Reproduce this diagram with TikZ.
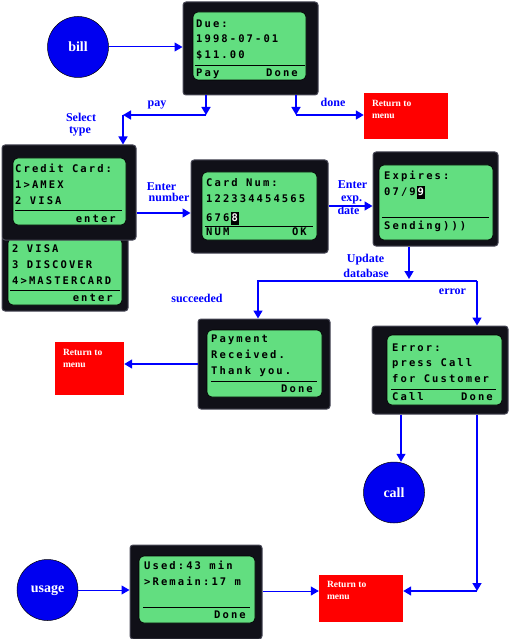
\documentclass[tikz,border=0pt]{standalone}
\usepackage{fontspec}
\setmainfont{Liberation Serif}
\newfontfamily\lcdfont[LetterSpace=20]{DejaVu Sans Mono}
\usetikzlibrary{arrows.meta}

\definecolor{linkblue}{RGB}{0,0,255}
\definecolor{circblue}{RGB}{0,0,240}
\definecolor{lcdgreen}{RGB}{98,222,128}
\definecolor{framebk}{RGB}{16,16,24}
\definecolor{framegray}{RGB}{72,72,86}

\tikzset{
  phone/.style={draw=framegray, fill=framebk, line width=1pt, rounded corners=3pt, inner sep=0pt},
  screen/.style={draw=black, fill=lcdgreen, line width=0.6pt, rounded corners=5pt, inner sep=0pt},
  lcd/.style={font=\lcdfont\bfseries\fontsize{10.5}{12}\selectfont, inner sep=0pt, anchor=base west},
  lcdr/.style={lcd, anchor=base east},
  cursor/.style={lcd, fill=black, text=white, text height=9.5pt, text depth=3.5pt, inner xsep=0.5pt},
  sep/.style={draw=black, line width=0.9pt},
  state/.style={circle, fill=circblue, draw=black, line width=0.5pt, minimum size=61pt, inner sep=0pt,
    text=white, font=\bfseries\fontsize{14}{14}\selectfont},
  menubox/.style={fill=red, inner sep=0pt},
  menutext/.style={text=white, font=\bfseries\fontsize{9.5}{12}\selectfont, inner sep=0pt, anchor=north west, align=left},
  lbl/.style={text=linkblue, font=\bfseries\fontsize{12}{12}\selectfont, inner sep=0pt, anchor=base},
  conn/.style={->, draw=linkblue, line width=1.6pt},
  thinconn/.style={conn, line width=1pt},
}

\begin{document}
\begin{tikzpicture}[x=1pt, y=-1pt, >={Triangle[length=8pt,width=9pt]}]
  \useasboundingbox (0,0) rectangle (513,639);

  % start points
  \node[state] (bill) at (78,47) {bill};
  \node[state] (call) at (394,492.5) {call};
  \node[state] (usage) at (47.5,590) {usage};

  % bill screen
  \node[phone, minimum width=135, minimum height=93] (due) at (250.5,48.5) {};
  \node[screen, minimum width=113, minimum height=68] (dues) at (249.5,46) {};
  \foreach \t [count=\i] in {Due:, 1998-07-01, \$11.00}
    \node[lcd] (due-\i) at (196,{12+15.5*\i}) {\t};
  \draw[sep] (195,65) -- (305,65);
  \node[lcd] (due-pay) at (196,77) {Pay};
  \node[lcdr] (due-done) at (298,77) {Done};

  % card type, second page first
  \node[phone, minimum width=126, minimum height=75] (card2) at (65,273.5) {};
  \node[screen, minimum width=114, minimum height=67] (card2s) at (65,271.5) {};
  \foreach \t [count=\i] in {2 VISA, 3 DISCOVER, 4>MASTERCARD}
    \node[lcd] (card2-\i) at (12,{236.5+16*\i}) {\t};
  \draw[sep] (10,290) -- (120,290);
  \node[lcdr] (card2-enter) at (113,301.5) {enter};

  \node[phone, minimum width=134, minimum height=95] (card) at (69,192.5) {};
  \node[screen, minimum width=113, minimum height=67] (cards) at (69.5,191.5) {};
  \foreach \t [count=\i] in {Credit Card:, 1>AMEX, 2 VISA}
    \node[lcd] (card-\i) at (15,{156+16*\i}) {\t};
  \draw[sep] (15,210) -- (122,210);
  \node[lcdr] (card-enter) at (116,222.5) {enter};

  % card number
  \node[phone, minimum width=137, minimum height=93] (num) at (259.5,206.5) {};
  \node[screen, minimum width=115, minimum height=68] (nums) at (259.5,206) {};
  \node[lcd] (num-1) at (206,186.5) {Card Num:};
  \node[lcd] (num-2) at (206,202.5) {122334454565};
  \node[lcd] (num-3) at (206,221.5) {676};
  \node[cursor] (num-cur) at (231,221.5) {8};
  \draw[sep] (205,226) -- (313,226);
  \node[lcd] (num-num) at (206,235.5) {NUM};
  \node[lcdr] (num-ok) at (307,235.5) {OK};

  % expiry date
  \node[phone, minimum width=125, minimum height=94] (exp) at (435.5,199) {};
  \node[screen, minimum width=114, minimum height=75] (exps) at (436,202.5) {};
  \node[lcd] (exp-1) at (384,179.5) {Expires:};
  \node[lcd] (exp-2) at (384,195.5) {07/9};
  \node[cursor] (exp-cur) at (417,195.5) {9};
  \draw[sep] (382,217) -- (489,217);
  \node[lcd] (exp-send) at (384,229.5) {Sending)))};

  % payment received
  \node[phone, minimum width=132, minimum height=90] (pay) at (264,364) {};
  \node[screen, minimum width=115, minimum height=67] (pays) at (264.5,363.5) {};
  \foreach \t [count=\i] in {Payment, Received., Thank you.}
    \node[lcd] (pay-\i) at (211,{326.5+16*\i}) {\t};
  \draw[sep] (211,381) -- (317,381);
  \node[lcdr] (pay-done) at (313,392.5) {Done};

  % error
  \node[phone, minimum width=136, minimum height=88] (err) at (440,370) {};
  \node[screen, minimum width=115, minimum height=70] (errs) at (444.5,370) {};
  \foreach \t [count=\i] in {Error:, press Call, for Customer}
    \node[lcd] (err-\i) at (392,{335.5+15.5*\i}) {\t};
  \draw[sep] (391,389) -- (496,389);
  \node[lcd] (err-call) at (392,400.5) {Call};
  \node[lcdr] (err-done) at (493,400.5) {Done};

  % usage
  \node[phone, minimum width=132, minimum height=94] (use) at (196,592) {};
  \node[screen, minimum width=116, minimum height=67] (uses) at (197,589.5) {};
  \node[lcd] (use-1) at (144,569.5) {Used:43 min};
  \node[lcd] (use-2) at (144,585.5) {>Remain:17 m};
  \draw[sep] (143,607) -- (250,607);
  \node[lcdr] (use-done) at (246,618.5) {Done};

  % return to menu
  \node[menubox, minimum width=84, minimum height=46] (red1) at (406,116) {};
  \node[menutext] (red1t) at ([shift={(8,7)}]red1.north west) {Return to\\menu};
  \node[menubox, minimum width=69, minimum height=53] (red2) at (89.5,368.5) {};
  \node[menutext] (red2t) at ([shift={(8,7)}]red2.north west) {Return to\\menu};
  \node[menubox, minimum width=84, minimum height=47] (red3) at (361,598.5) {};
  \node[menutext] (red3t) at ([shift={(8,6)}]red3.north west) {Return to\\menu};

  % labels
  \node[lbl] (l-pay) at (157,107) {pay};
  \node[lbl] (l-done) at (333,107) {done};
  \node[lbl] (l-sel) at (81,122) {Select};
  \node[lbl] (l-type) at (80,134) {type};
  \node[lbl] (l-ent) at (161.5,190) {Enter};
  \node[lbl] (l-numb) at (169,201) {number};
  \node[lbl] (l-ent2) at (352.5,189) {Enter};
  \node[lbl] (l-exp) at (351.5,201.5) {exp.};
  \node[lbl] (l-date) at (348.5,214) {date};
  \node[lbl] (l-upd) at (365.5,262) {Update};
  \node[lbl] (l-db) at (366,277) {database};
  \node[lbl] (l-ok) at (197,302) {succeeded};
  \node[lbl] (l-err) at (452.5,294) {error};

  % connectors
  \coordinate (payA) at (206,115);
  \coordinate (payB) at (123,115);
  \coordinate (doneA) at (296,115);
  \coordinate (upd) at (409,279);
  \coordinate (okA) at (258,281);
  \coordinate (errA) at (477,281);
  \coordinate (doneB) at (477,591);
  \draw[thinconn] (bill) -- (bill -| due.west);
  \draw[conn] (due.south -| payA) -- (payA);
  \draw[conn] (payA) -- (payB);
  \draw[conn] (payB) -- (payB |- card.north);
  \draw[conn] (due.south -| doneA) -- (doneA);
  \draw[conn] (doneA) -- (doneA -| red1.west);
  \draw[conn, line width=1.3pt] (card.east |- 0,213) -- (num.west |- 0,213);
  \draw[conn] (num.east |- 0,206) -- (exp.west |- 0,206);
  \draw[conn] (exp.south -| upd) -- (upd);
  \draw[conn] (errA) -- (okA) -- (okA |- pay.north);
  \draw[conn] (errA) -- (errA |- err.north);
  \draw[conn] (pay.west) -- (pay.west -| red2.east);
  \draw[conn, line width=1.3pt] (err.south -| 401,0) -- (call.north -| 401,0);
  \draw[conn] (err.south -| doneB) -- (doneB);
  \draw[conn] (doneB) -- (doneB -| red3.east);
  \draw[thinconn] (usage) -- (usage -| use.west);
  \draw[thinconn] (use.east |- 0,591) -- (red3.west |- 0,591);
\end{tikzpicture}
\end{document}
